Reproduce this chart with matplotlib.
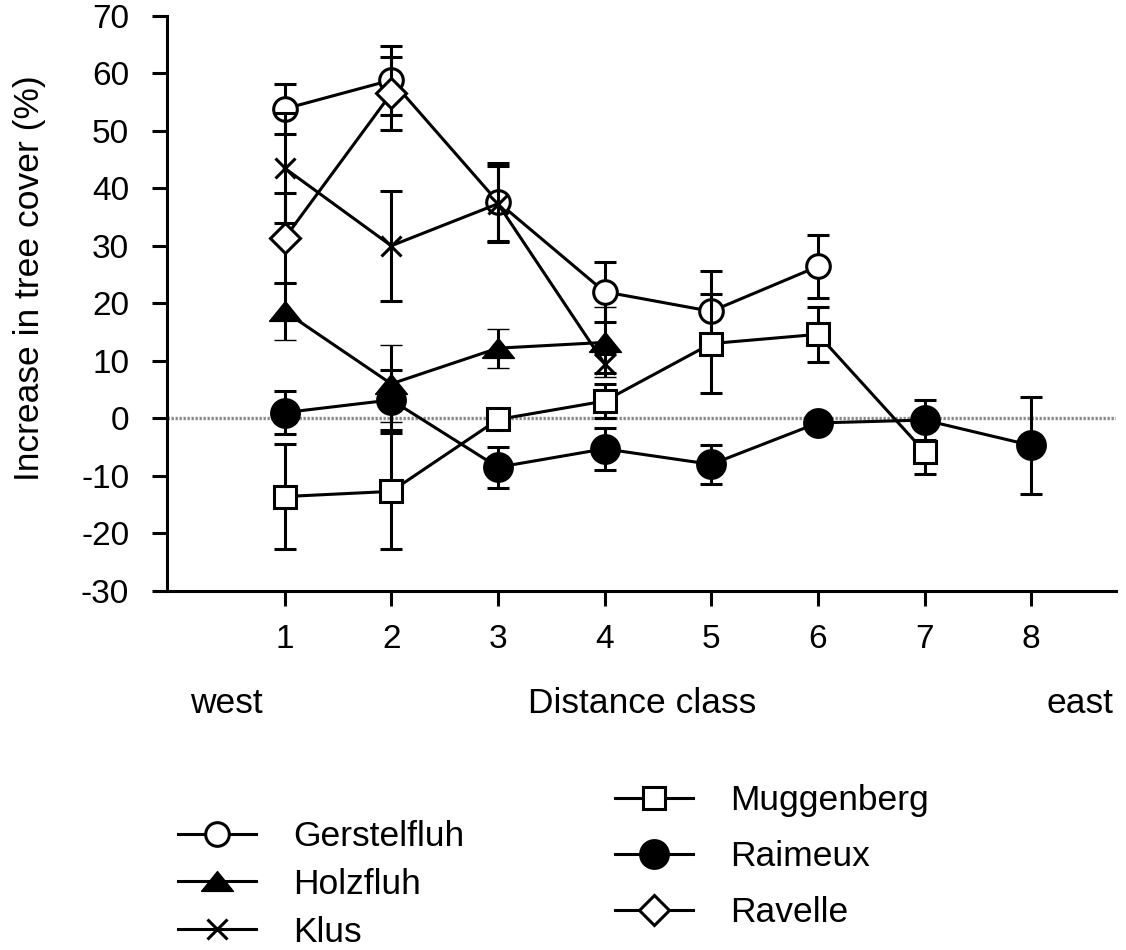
import numpy as np
import matplotlib.pyplot as plt
from matplotlib.lines import Line2D

plt.rcParams['font.family'] = ['Liberation Sans', 'DejaVu Sans']
plt.rcParams['axes.unicode_minus'] = False

# ---- data: mean increase in tree cover (%) and error per distance class ----
gerst_x = [1, 2, 3, 4, 5, 6]
gerst_y = [53.8, 58.8, 37.6, 22.0, 18.6, 26.4]
gerst_e = [4.3, 6.0, 6.8, 5.2, 7.0, 5.5]

holz_x = [1, 2, 3, 4]
holz_y = [18.6, 6.0, 12.2, 13.2]
holz_e = [4.9, 6.7, 3.4, 6.1]

klus_x = [1, 2, 3, 4]
klus_y = [43.5, 30.0, 37.3, 9.5]
klus_e = [9.5, 9.6, 6.6, 1.6]

mugg_x = [1, 2, 3, 4, 5, 6, 7]
mugg_y = [-13.6, -12.7, -0.2, 3.0, 13.0, 14.6, -5.8]
mugg_e = [9.2, 10.1, 0.0, 2.9, 8.6, 4.8, 3.9]

raim_x = [1, 2, 3, 4, 5, 6, 7, 8]
raim_y = [1.0, 3.2, -8.5, -5.3, -8.0, -0.8, -0.3, -4.7]
raim_e = [3.7, 5.2, 3.6, 3.6, 3.4, 0.0, 3.5, 8.4]

rav_x = [1, 2]
rav_y = [31.3, 56.5]
rav_e = [7.8, 6.3]

xticks = [1, 2, 3, 4, 5, 6, 7, 8]
yticks = [-30, -20, -10, 0, 10, 20, 30, 40, 50, 60, 70]

# flat triangle marker
tri = [(-1, -0.62), (1, -0.62), (0, 0.62), (-1, -0.62)]

styles = [
    ('Gerstelfluh', gerst_x, gerst_y, gerst_e, dict(marker='o', ms=17, mfc='white')),
    ('Holzfluh', holz_x, holz_y, holz_e, dict(marker=tri, ms=23, mfc='black', mew=1)),
    ('Klus', klus_x, klus_y, klus_e, dict(marker='x', ms=15, mfc='none')),
    ('Muggenberg', mugg_x, mugg_y, mugg_e, dict(marker='s', ms=16, mfc='white')),
    ('Raimeux', raim_x, raim_y, raim_e, dict(marker='o', ms=20, mfc='black')),
    ('Ravelle', rav_x, rav_y, rav_e, dict(marker='D', ms=15, mfc='white')),
]

fig = plt.figure(figsize=(11.26, 9.5), dpi=100)
ax = fig.add_axes([0.148, 0.378, 0.843, 0.6055])

ax.axhline(0, color='#8a8a8a', lw=2.4, ls=(0, (0.7, 0.5)), zorder=1)

handles = []
for i, (name, x, y, e, st) in enumerate(styles):
    kw = dict(mec='black', mew=2.2)
    kw.update(st)
    ax.errorbar(x, y, yerr=e, color='black', lw=2.2, elinewidth=2.2,
                capsize=8, capthick=2.2, zorder=3 + i, **kw)
    handles.append(Line2D([], [], color='black', lw=2.2, label=name, **kw))

ax.set_xlim(-0.106, 8.794)
ax.set_ylim(-30, 70)
ax.set_xticks(xticks)
ax.set_yticks(yticks)
for s in ['top', 'right']:
    ax.spines[s].set_visible(False)
for s in ['left', 'bottom']:
    ax.spines[s].set_linewidth(2.2)
ax.tick_params(axis='both', width=2.2, length=11, labelsize=24)
ax.tick_params(axis='y', pad=16)
ax.tick_params(axis='x', pad=13)

fig.text(30 / 1126, 1 - 278 / 950, 'Increase in tree cover (%)', rotation=90,
         ha='center', va='center', fontsize=25.5)
fig.text(190 / 1126, 1 - 713 / 950, 'west', ha='left', va='baseline', fontsize=25.5)
fig.text(642 / 1126, 1 - 713 / 950, 'Distance class', ha='center', va='baseline', fontsize=25.5)
fig.text(1113 / 1126, 1 - 713 / 950, 'east', ha='right', va='baseline', fontsize=25.5)

lkw = dict(frameon=False, fontsize=25.5, borderpad=0, borderaxespad=0,
           handlelength=2.2, handletextpad=1.05, numpoints=1, loc='upper left')
fig.legend(handles=handles[:3], bbox_to_anchor=(178 / 1126, 1 - 820 / 950),
           labelspacing=0.42, **lkw)
fig.legend(handles=handles[3:], bbox_to_anchor=(615 / 1126, 1 - 784 / 950),
           labelspacing=0.65, **lkw)

fig.savefig('out.png', dpi=100)
